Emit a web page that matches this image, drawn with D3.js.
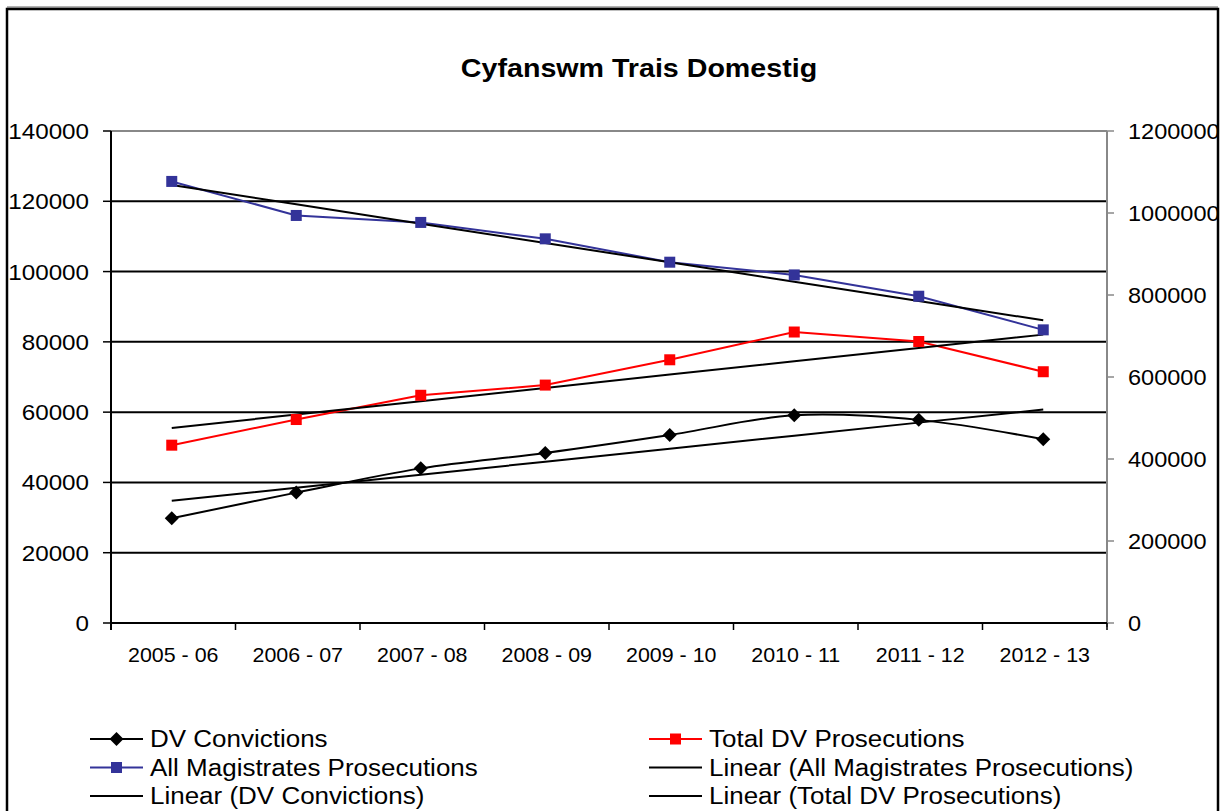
<!DOCTYPE html>
<html>
<head>
<meta charset="utf-8">
<script src="https://cdn.jsdelivr.net/npm/d3@7"></script>
<style>
  html, body { margin: 0; padding: 0; background: #fff; }
  svg { display: block; font-family: "Liberation Sans", Arial, sans-serif; }
</style>
</head>
<body>
<svg id="chart" width="1229" height="811"></svg>
<script>
const categories = ['2005 - 06', '2006 - 07', '2007 - 08', '2008 - 09', '2009 - 10', '2010 - 11', '2011 - 12', '2012 - 13'];
const dvConvictions = [29800, 37100, 44000, 48400, 53500, 59100, 57800, 52300];
const totalDvProsecutions = [50600, 57900, 64800, 67700, 74900, 82800, 80100, 71500];
const allMagistratesProsecutions = [1077000, 994000, 977000, 937000, 880000, 849000, 797000, 715000];
const leftTicks = [0, 20000, 40000, 60000, 80000, 100000, 120000, 140000];
const rightTicks = [0, 200000, 400000, 600000, 800000, 1000000, 1200000];

const svg = d3.select('#chart');

const plot = { left: 111, right: 1107, top: 131, bottom: 623 };

const x = d3.scaleBand().domain(categories).range([plot.left, plot.right]);
const cx = d => x(d) + x.bandwidth() / 2 - 1.5;
const yL = d3.scaleLinear().domain([0, 140000]).range([plot.bottom, plot.top]);
const yR = d3.scaleLinear().domain([0, 1200000]).range([plot.bottom, plot.top]);

// text helper, the reference text is a bit stretched sideways
function label(g, txt, px, py, size, anchor, sx, weight) {
  return g.append('text')
    .attr('transform', `translate(${px},${py}) scale(${sx},1)`)
    .attr('text-anchor', anchor)
    .style('font-size', size + 'px')
    .style('font-weight', weight || 'normal')
    .attr('fill', '#000')
    .text(txt);
}

// outer frame
svg.append('line').attr('x1', 7).attr('x2', 1218).attr('y1', 7).attr('y2', 7)
  .attr('stroke', '#999').attr('stroke-width', 1.5);
svg.append('rect').attr('x', 7).attr('y', 9).attr('width', 1211).attr('height', 830)
  .attr('fill', 'none').attr('stroke', '#000').attr('stroke-width', 2.5);

// title
label(svg, 'Cyfanswm Trais Domestig', 639, 77, 26.5, 'middle', 1.08, 'bold');

// gridlines
svg.append('g').selectAll('line')
  .data(leftTicks.filter(t => t > 0 && t < 140000))
  .join('line')
  .attr('x1', plot.left).attr('x2', plot.right)
  .attr('y1', d => yL(d)).attr('y2', d => yL(d))
  .attr('stroke', '#000').attr('stroke-width', 2);

// plot top border (gray)
svg.append('line').attr('x1', plot.left).attr('x2', plot.right)
  .attr('y1', plot.top).attr('y2', plot.top)
  .attr('stroke', '#888').attr('stroke-width', 2);

// left axis
const axL = svg.append('g');
axL.append('line').attr('x1', plot.left).attr('x2', plot.left)
  .attr('y1', plot.top).attr('y2', plot.bottom + 7)
  .attr('stroke', '#000').attr('stroke-width', 2);
axL.selectAll('.tk').data(leftTicks).join('line').attr('class', 'tk')
  .attr('x1', plot.left - 8).attr('x2', plot.left)
  .attr('y1', d => yL(d)).attr('y2', d => yL(d))
  .attr('stroke', '#000').attr('stroke-width', 1.5);
leftTicks.forEach(t => label(axL, String(t), 89, yL(t) + 8, 22, 'end', 1.1));

// right axis
const axR = svg.append('g');
axR.append('line').attr('x1', plot.right).attr('x2', plot.right)
  .attr('y1', plot.top).attr('y2', plot.bottom + 4)
  .attr('stroke', '#888').attr('stroke-width', 2);
axR.selectAll('.tk').data(rightTicks).join('line').attr('class', 'tk')
  .attr('x1', plot.right).attr('x2', plot.right + 7)
  .attr('y1', d => yR(d)).attr('y2', d => yR(d))
  .attr('stroke', '#888').attr('stroke-width', 1.5);
rightTicks.forEach(t => label(axR, String(t), 1128, yR(t) + 8, 22, 'start', 1.07));

// x axis
const axX = svg.append('g');
axX.append('line').attr('x1', plot.left).attr('x2', plot.right)
  .attr('y1', plot.bottom).attr('y2', plot.bottom)
  .attr('stroke', '#000').attr('stroke-width', 2);
const bounds = categories.map(c => x(c)).concat([plot.right]);
axX.selectAll('.tk').data(bounds).join('line').attr('class', 'tk')
  .attr('x1', d => d).attr('x2', d => d)
  .attr('y1', plot.bottom).attr('y2', plot.bottom + 7)
  .attr('stroke', '#000').attr('stroke-width', 1.5);
categories.forEach(c => label(axX, c, x(c) + x.bandwidth() / 2, 662, 21, 'middle', 1.02));

// least squares trend over category index, like the spreadsheet's linear trendline
function trend(vals) {
  const n = vals.length;
  const mx = (n - 1) / 2;
  const my = d3.mean(vals);
  let sxy = 0, sxx = 0;
  vals.forEach((v, i) => { sxy += (i - mx) * (v - my); sxx += (i - mx) * (i - mx); });
  const b = sxy / sxx;
  return vals.map((v, i) => my + b * (i - mx));
}

const series = [
  { name: 'All Magistrates Prosecutions', vals: allMagistratesProsecutions, y: yR, color: '#333399', marker: 'square', curve: d3.curveLinear },
  { name: 'Total DV Prosecutions', vals: totalDvProsecutions, y: yL, color: '#ff0000', marker: 'square', curve: d3.curveLinear },
  { name: 'DV Convictions', vals: dvConvictions, y: yL, color: '#000000', marker: 'diamond', curve: d3.curveCatmullRom }
];

const marks = svg.append('g');

series.forEach(s => {
  const pts = s.vals.map((v, i) => [cx(categories[i]), s.y(v)]);
  marks.append('path')
    .attr('d', d3.line().curve(s.curve)(pts))
    .attr('fill', 'none').attr('stroke', s.color).attr('stroke-width', 2);
});

// trendlines
series.forEach(s => {
  const tv = trend(s.vals);
  marks.append('path')
    .attr('d', d3.line()(tv.map((v, i) => [cx(categories[i]), s.y(v)])))
    .attr('fill', 'none').attr('stroke', '#000').attr('stroke-width', 2);
});

function drawMarker(g, type, px, py, color) {
  if (type === 'square') {
    g.append('rect').attr('x', px - 5.5).attr('y', py - 5.5).attr('width', 11).attr('height', 11)
      .attr('fill', color);
  } else {
    g.append('path').attr('d', `M${px},${py - 7}L${px + 7},${py}L${px},${py + 7}L${px - 7},${py}Z`)
      .attr('fill', color);
  }
}

series.forEach(s => {
  s.vals.forEach((v, i) => drawMarker(marks, s.marker, cx(categories[i]), s.y(v), s.color));
});

// legend
const legendItems = [
  { name: 'DV Convictions', color: '#000', marker: 'diamond', col: 0, row: 0 },
  { name: 'Total DV Prosecutions', color: '#ff0000', marker: 'square', col: 1, row: 0 },
  { name: 'All Magistrates Prosecutions', color: '#333399', marker: 'square', col: 0, row: 1 },
  { name: 'Linear (All Magistrates Prosecutions)', color: '#000', marker: null, col: 1, row: 1 },
  { name: 'Linear (DV Convictions)', color: '#000', marker: null, col: 0, row: 2 },
  { name: 'Linear (Total DV Prosecutions)', color: '#000', marker: null, col: 1, row: 2 }
];
const legCols = [90, 649];
const legRows = [739, 767.5, 796];
const leg = svg.append('g');
legendItems.forEach(it => {
  const lx = legCols[it.col], ly = legRows[it.row];
  leg.append('line').attr('x1', lx).attr('x2', lx + 53).attr('y1', ly).attr('y2', ly)
    .attr('stroke', it.color).attr('stroke-width', 2);
  if (it.marker) drawMarker(leg, it.marker, lx + 26.5, ly, it.color);
  label(leg, it.name, lx + 60, ly + 8, 23, 'start', 1.13);
});
</script>
</body>
</html>
